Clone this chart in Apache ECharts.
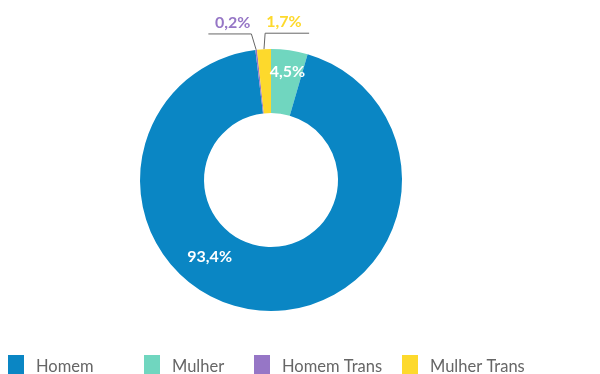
<!DOCTYPE html>
<html>
<head>
<meta charset="utf-8">
<script src="https://cdn.jsdelivr.net/npm/echarts@6/dist/echarts.min.js"></script>
<style>
  html, body { margin: 0; padding: 0; background: #ffffff; }
  #chart { width: 600px; height: 374px; }
</style>
</head>
<body>
<div id="chart"></div>
<script>
// Slice order, clockwise from 12 o'clock
const categories = ['Mulher', 'Homem', 'Homem Trans', 'Mulher Trans'];
const values = [4.5, 93.4, 0.2, 1.7];
const colors = ['#70d6bf', '#0a86c4', '#9676c6', '#fdd92c'];
// Legend order as shown under the chart
const legendOrder = ['Homem', 'Mulher', 'Homem Trans', 'Mulher Trans'];
const legendLeft = [8, 144, 254, 402];

const fmt = v => v.toFixed(1).replace('.', ',') + '%';

const data = categories.map((name, i) => {
  const inside = values[i] >= 3;
  return {
    name: name,
    value: values[i],
    itemStyle: { color: colors[i] },
    label: inside
      ? { position: 'inside', color: '#ffffff' }
      : { position: 'outside', color: colors[i] },
    labelLine: { show: !inside }
  };
});

const chart = echarts.init(document.getElementById('chart'), null, { renderer: 'canvas' });

chart.setOption({
  animation: false,
  legend: legendOrder.map((name, i) => ({
    data: [name],
    left: legendLeft[i],
    top: 355,
    padding: 0,
    icon: 'rect',
    itemWidth: 16,
    itemHeight: 24,
    selectedMode: false,
    textStyle: {
      fontFamily: 'Lato',
      fontSize: 16.5,
      color: '#666666',
      padding: [3, 0, 0, 7]
    }
  })),
  series: [{
    type: 'pie',
    center: [271, 180],
    radius: [67, 131],
    startAngle: 90,
    clockwise: true,
    avoidLabelOverlap: false,
    silent: true,
    label: {
      show: true,
      formatter: p => fmt(p.value),
      fontFamily: 'Lato',
      fontWeight: 'bold',
      fontSize: 16
    },
    labelLine: {
      length: 16,
      length2: 43,
      lineStyle: { color: '#666666', width: 1 }
    },
    labelLayout: function (params) {
      const name = categories[params.dataIndex];
      const p = params.labelLinePoints;
      if (name === 'Homem') {
        return { dx: -53, dy: -25 };
      }
      if (name === 'Mulher') {
        return { dx: 2, dy: -7 };
      }
      if (!p) return {};
      const bend = p[1];
      if (name === 'Homem Trans') {
        const b = [bend[0] - 3, bend[1]];
        return {
          labelLinePoints: [p[0], b, [b[0] - 43, b[1]]],
          x: b[0] - 1,
          y: b[1] - 3,
          align: 'right',
          verticalAlign: 'bottom'
        };
      }
      const b = [bend[0] + 2, bend[1]];
      return {
        labelLinePoints: [p[0], b, [b[0] + 44, b[1]]],
        x: b[0] + 1,
        y: b[1] - 3,
        align: 'left',
        verticalAlign: 'bottom'
      };
    },
    data: data
  }]
});
</script>
</body>
</html>
